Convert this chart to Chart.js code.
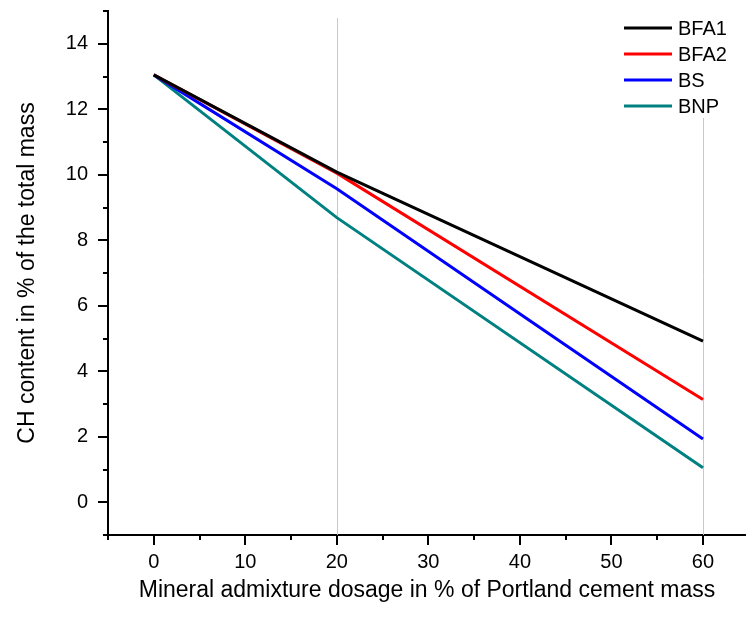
<!DOCTYPE html>
<html>
<head>
<meta charset="utf-8">
<script src="https://cdn.jsdelivr.net/npm/chart.js@4/dist/chart.umd.min.js"></script>
<style>
  html, body { margin: 0; padding: 0; background: #fff; }
  #wrap { width: 746px; height: 619px; position: relative; }
</style>
</head>
<body>
<div id="wrap"><canvas id="c" width="746" height="619"></canvas></div>
<script>
// Mineral admixture dosage (% of Portland cement mass)
const dosage = [0, 20, 60];
// CH content (% of total mass) for each binder
const seriesNames = ['BFA1', 'BFA2', 'BS', 'BNP'];
const bfa1 = [13.05, 10.08, 4.92];
const bfa2 = [13.05, 10.05, 3.14];
const bs   = [13.05, 9.57, 1.93];
const bnp  = [13.05, 8.69, 1.05];
const seriesColors = ['#000000', '#ff0000', '#0000ff', '#008080'];

// Axis tick labels
const xTickLabels = [0, 10, 20, 30, 40, 50, 60];
const yTickLabels = [0, 2, 4, 6, 8, 10, 12, 14];
// Dosages with light vertical guide lines
const guideDosages = [20, 60];

const FONT = '"Liberation Sans", Arial, sans-serif';

function toPoints(ys) { return dosage.map((x, i) => ({ x: x, y: ys[i] })); }

const allSeries = [bfa1, bfa2, bs, bnp];
const datasets = allSeries.map((ys, i) => ({
  label: seriesNames[i],
  data: toPoints(ys),
  borderColor: seriesColors[i],
  backgroundColor: seriesColors[i],
  borderWidth: 3,
  pointRadius: 0,
  fill: false,
  tension: 0
}));

// Draws guide lines, minor/major tick marks and the legend box
const axisDecor = {
  id: 'axisDecor',
  beforeDatasetsDraw(chart) {
    const { ctx, chartArea, scales } = chart;
    const xs = scales.x;
    ctx.save();
    ctx.strokeStyle = '#c8c8c8';
    ctx.lineWidth = 1;
    guideDosages.forEach(v => {
      const px = Math.round(xs.getPixelForValue(v)) + 0.5;
      ctx.beginPath();
      ctx.moveTo(px, chartArea.top + 7);
      ctx.lineTo(px, chartArea.bottom);
      ctx.stroke();
    });
    ctx.restore();
  },
  afterDraw(chart) {
    const { ctx, chartArea, scales } = chart;
    const xs = scales.x, ys = scales.y;
    ctx.save();
    ctx.strokeStyle = '#000';
    ctx.lineWidth = 2;
    // x ticks: major at labels, minor halfway
    const xStep = xTickLabels[1] - xTickLabels[0];
    for (let v = xTickLabels[0] - xStep / 2; v <= xs.max + 1e-9; v += xStep / 2) {
      const major = xTickLabels.includes(v);
      const px = Math.round(xs.getPixelForValue(v));
      ctx.beginPath();
      ctx.moveTo(px, chartArea.bottom);
      ctx.lineTo(px, chartArea.bottom + (major ? 10 : 5));
      ctx.stroke();
    }
    // y ticks
    const yStep = yTickLabels[1] - yTickLabels[0];
    for (let v = ys.min; v <= ys.max + 1e-9; v += yStep / 2) {
      const major = yTickLabels.includes(v);
      const py = Math.round(ys.getPixelForValue(v));
      ctx.beginPath();
      ctx.moveTo(chartArea.left, py);
      ctx.lineTo(chartArea.left - (major ? 10 : 5), py);
      ctx.stroke();
    }
    // legend
    ctx.fillStyle = '#fff';
    ctx.fillRect(615, 14, 131, 104);
    ctx.font = '20px ' + FONT;
    ctx.textBaseline = 'middle';
    ctx.textAlign = 'left';
    chart.data.datasets.forEach((ds, i) => {
      const y = 28 + i * 26;
      ctx.strokeStyle = ds.borderColor;
      ctx.lineWidth = 3;
      ctx.beginPath();
      ctx.moveTo(624, y);
      ctx.lineTo(672, y);
      ctx.stroke();
      ctx.fillStyle = '#000';
      ctx.fillText(ds.label, 678, y + 1);
    });
    ctx.restore();
  }
};

function noEdgePadding(s) {
  s.paddingTop = 0; s.paddingBottom = 0; s.paddingLeft = 0; s.paddingRight = 0;
}

new Chart(document.getElementById('c'), {
  type: 'line',
  data: { datasets: datasets },
  options: {
    responsive: false,
    animation: false,
    devicePixelRatio: 1,
    layout: { padding: { top: 11, right: 0, left: 0, bottom: 0 } },
    plugins: { legend: { display: false }, tooltip: { enabled: false } },
    scales: {
      x: {
        type: 'linear',
        min: -5,
        max: 64.7,
        grid: { display: false, drawTicks: false },
        border: { display: true, color: '#000', width: 2 },
        afterBuildTicks: s => { s.ticks = xTickLabels.map(v => ({ value: v })); },
        afterFit: s => { s.height = 84; noEdgePadding(s); },
        ticks: {
          color: '#000',
          padding: 15,
          maxRotation: 0,
          autoSkip: false,
          font: { family: FONT, size: 20 }
        },
        title: {
          display: true,
          text: 'Mineral admixture dosage in % of Portland cement mass',
          color: '#000',
          font: { family: FONT, size: 23 },
          padding: { top: 0, bottom: 15 }
        }
      },
      y: {
        type: 'linear',
        min: -1,
        max: 15,
        grid: { display: false, drawTicks: false },
        border: { display: true, color: '#000', width: 2 },
        afterBuildTicks: s => { s.ticks = yTickLabels.map(v => ({ value: v })); },
        afterFit: s => { s.width = 108; noEdgePadding(s); },
        ticks: {
          color: '#000',
          padding: 20,
          autoSkip: false,
          font: { family: FONT, size: 20 }
        },
        title: {
          display: true,
          text: 'CH content in % of the total mass',
          color: '#000',
          font: { family: FONT, size: 23 },
          padding: { top: 14, bottom: 0 }
        }
      }
    }
  },
  plugins: [axisDecor]
});
</script>
</body>
</html>
